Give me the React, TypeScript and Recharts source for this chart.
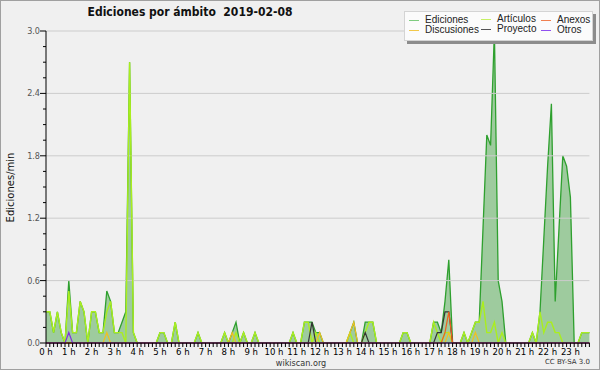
import { ComposedChart, Area, Line, XAxis, YAxis, ReferenceLine } from "recharts";

// 10-minute slots over the day (0 = 00:00, 143 = 23:50)
const slots = Array.from({ length: 144 }, (_, k) => k);

const ediciones = [
  0.3, 0.3, 0.1, 0.3, 0.1, 0, 0.6, 0.1, 0.1, 0.4, 0.3, 0, 0.3, 0.3, 0.1, 0.1, 0.5, 0.4, 0.1, 0.1, 0.2, 0.3, 2.7, 0.1,
  0, 0, 0, 0, 0, 0, 0.1, 0.1, 0, 0, 0.2, 0, 0, 0, 0, 0, 0.1, 0, 0, 0, 0, 0, 0, 0.1,
  0, 0.1, 0.2, 0, 0.1, 0, 0, 0.1, 0, 0, 0, 0, 0, 0, 0, 0, 0, 0.1, 0, 0, 0.2, 0.2, 0.2, 0.1,
  0.1, 0, 0, 0, 0, 0, 0, 0, 0.1, 0.2, 0, 0, 0.2, 0.2, 0.2, 0, 0, 0, 0, 0, 0, 0, 0.1, 0.1,
  0, 0, 0, 0, 0, 0, 0.2, 0.2, 0.1, 0.4, 0.8, 0, 0, 0, 0.1, 0, 0.1, 0.2, 0.2, 1.1, 2.0, 1.9, 3.0, 0.6,
  0.4, 0, 0, 0, 0, 0, 0, 0, 0.1, 0, 0.3, 1.0, 1.7, 2.3, 0.4, 1.1, 1.8, 1.7, 1.4, 0, 0, 0.1, 0.1, 0.1,
];

const articulos = [
  0.3, 0.3, 0.1, 0.3, 0.1, 0, 0.5, 0.1, 0.1, 0.4, 0.3, 0, 0.3, 0.3, 0.1, 0.1, 0.3, 0.4, 0.1, 0.1, 0.1, 0, 2.7, 0.1,
  0, 0, 0, 0, 0, 0, 0.1, 0.1, 0, 0, 0.2, 0, 0, 0, 0, 0, 0.1, 0, 0, 0, 0, 0, 0, 0.1,
  0, 0, 0.1, 0, 0.1, 0, 0, 0.1, 0, 0, 0, 0, 0, 0, 0, 0, 0, 0.1, 0, 0, 0.2, 0.2, 0, 0.1,
  0, 0, 0, 0, 0, 0, 0, 0, 0.1, 0, 0, 0, 0.1, 0.2, 0.2, 0, 0, 0, 0, 0, 0, 0, 0.1, 0.1,
  0, 0, 0, 0, 0, 0, 0.2, 0.1, 0, 0.1, 0.1, 0, 0, 0, 0.1, 0, 0.1, 0.2, 0.2, 0.4, 0.1, 0.1, 0.2, 0,
  0.1, 0, 0, 0, 0, 0, 0, 0, 0.1, 0, 0.3, 0.1, 0.2, 0.2, 0.1, 0.1, 0, 0, 0, 0, 0, 0.1, 0.1, 0.1,
];

const discusiones = [
  0, 0, 0, 0, 0, 0, 0, 0, 0, 0, 0, 0, 0, 0, 0, 0, 0.1, 0, 0, 0, 0, 0, 0, 0,
  0, 0, 0, 0, 0, 0, 0, 0, 0, 0, 0, 0, 0, 0, 0, 0, 0, 0, 0, 0, 0, 0, 0, 0,
  0, 0.1, 0, 0, 0, 0, 0, 0, 0, 0, 0, 0, 0, 0, 0, 0, 0, 0, 0, 0, 0, 0, 0, 0,
  0.1, 0, 0, 0, 0, 0, 0, 0, 0.1, 0.2, 0, 0, 0, 0, 0, 0, 0, 0, 0, 0, 0, 0, 0, 0,
  0, 0, 0, 0, 0, 0, 0, 0, 0, 0, 0.1, 0, 0, 0, 0, 0, 0, 0.1, 0, 0, 0, 0, 0, 0,
  0, 0, 0, 0, 0, 0, 0, 0, 0, 0, 0, 0, 0, 0, 0, 0, 0, 0, 0, 0, 0, 0, 0, 0,
];

const proyecto = [
  0, 0, 0, 0, 0, 0, 0, 0, 0, 0, 0, 0, 0, 0, 0, 0, 0, 0, 0, 0, 0, 0, 0, 0,
  0, 0, 0, 0, 0, 0, 0, 0, 0, 0, 0, 0, 0, 0, 0, 0, 0, 0, 0, 0, 0, 0, 0, 0,
  0, 0, 0, 0, 0, 0, 0, 0, 0, 0, 0, 0, 0, 0, 0, 0, 0, 0, 0, 0, 0, 0, 0.2, 0,
  0, 0, 0, 0, 0, 0, 0, 0, 0, 0, 0, 0, 0.1, 0, 0, 0, 0, 0, 0, 0, 0, 0, 0, 0,
  0, 0, 0, 0, 0, 0, 0, 0.1, 0.1, 0.3, 0.3, 0, 0, 0, 0, 0, 0, 0, 0, 0, 0, 0, 0, 0,
  0, 0, 0, 0, 0, 0, 0, 0, 0, 0, 0, 0, 0, 0, 0, 0, 0, 0, 0, 0, 0, 0, 0, 0,
];

const anexos = [
  0, 0, 0, 0, 0, 0, 0, 0, 0, 0, 0, 0, 0, 0, 0, 0, 0, 0, 0, 0, 0, 0, 0, 0,
  0, 0, 0, 0, 0, 0, 0, 0, 0, 0, 0, 0, 0, 0, 0, 0, 0, 0, 0, 0, 0, 0, 0, 0,
  0, 0, 0, 0, 0, 0, 0, 0, 0, 0, 0, 0, 0, 0, 0, 0, 0, 0, 0, 0, 0, 0, 0, 0,
  0, 0, 0, 0, 0, 0, 0, 0, 0, 0, 0, 0, 0, 0, 0, 0, 0, 0, 0, 0, 0, 0, 0, 0,
  0, 0, 0, 0, 0, 0, 0, 0, 0, 0.1, 0.3, 0, 0, 0, 0, 0, 0, 0, 0, 0, 0, 0, 0, 0,
  0, 0, 0, 0, 0, 0, 0, 0, 0, 0, 0, 0, 0, 0, 0, 0, 0, 0, 0, 0, 0, 0, 0, 0,
];

const otros = [
  0, 0, 0, 0, 0, 0, 0.1, 0, 0, 0, 0, 0, 0, 0, 0, 0, 0, 0, 0, 0, 0, 0, 0, 0,
  0, 0, 0, 0, 0, 0, 0, 0, 0, 0, 0, 0, 0, 0, 0, 0, 0, 0, 0, 0, 0, 0, 0, 0,
  0, 0, 0, 0, 0, 0, 0, 0, 0, 0, 0, 0, 0, 0, 0, 0, 0, 0, 0, 0, 0, 0, 0, 0,
  0, 0, 0, 0, 0, 0, 0, 0, 0, 0, 0, 0, 0, 0, 0, 0, 0, 0, 0, 0, 0, 0, 0, 0,
  0, 0, 0, 0, 0, 0, 0, 0, 0, 0, 0, 0, 0, 0, 0, 0, 0, 0, 0, 0, 0, 0, 0, 0,
  0, 0, 0, 0, 0, 0, 0, 0, 0, 0, 0, 0, 0, 0, 0, 0, 0, 0, 0, 0, 0, 0, 0, 0,
];

const yTicks = [0, 0.15, 0.3, 0.45, 0.6, 0.75, 0.9, 1.05, 1.2, 1.35, 1.5, 1.65, 1.8, 1.95, 2.1, 2.25, 2.4, 2.55, 2.7, 2.85, 3.0];
const gridLines = [0.6, 1.2, 1.8, 2.4, 3.0];

const data = slots.map((s, k) => ({
  i: s,
  ed: ediciones[k],
  art: articulos[k],
  disc: discusiones[k],
  proy: proyecto[k],
  anex: anexos[k],
  otros: otros[k],
}));

const legendItems = [
  { name: "Ediciones", color: "#7fcc7f", left: 4, top: 8 },
  { name: "Discusiones", color: "#f2c84a", left: 4, top: 18 },
  { name: "Artículos", color: "#c6f064", left: 76, top: 7 },
  { name: "Proyecto", color: "#555", left: 76, top: 17 },
  { name: "Anexos", color: "#f08050", left: 136, top: 8 },
  { name: "Otros", color: "#9050f0", left: 136, top: 18 },
];

const font = "'DejaVu Sans', sans-serif";
const narrow = "'DejaVu Sans Condensed', 'DejaVu Sans', sans-serif";

function SlotTick(props: any) {
  const { x, y, payload } = props;
  const v = payload.value;
  return (
    <g>
      <line x1={x} x2={x} y1={y} y2={y + 4} stroke="#000" />
      {v % 6 === 0 && (
        <text x={x} y={y + 12} textAnchor="middle" fontSize={9.5} fontFamily={narrow} fill="#000">
          {v / 6} h
        </text>
      )}
    </g>
  );
}

function ValueTick(props: any) {
  const { x, y, payload } = props;
  const major = Math.round(payload.value * 100) % 60 === 0;
  return (
    <g>
      <line x1={x - (major ? 6 : 3)} x2={x} y1={y} y2={y} stroke="#000" />
      {major && (
        <text x={x - 6} y={y + 3} textAnchor="end" fontSize={9} fontFamily={narrow} fill="#555">
          {payload.value.toFixed(1)}
        </text>
      )}
    </g>
  );
}

export default function App() {
  return (
    <div
      style={{
        position: "relative",
        width: 600,
        height: 370,
        boxSizing: "border-box",
        border: "1px solid #a0a0a0",
        background: "#f0f0f0",
        fontFamily: font,
        overflow: "hidden",
      }}
    >
      <style>{`body{margin:0}`}</style>
      <div style={{ position: "absolute", left: -1, top: -1 }}>
        <ComposedChart width={600} height={370} data={data} margin={{ top: 31, right: 10.6, bottom: 7, left: 0 }}>
          {gridLines.map((g) => (
            <ReferenceLine key={g} y={g} stroke="#cccccc" strokeWidth={1} />
          ))}
          <Area
            dataKey="ed"
            type="linear"
            stroke="#2ea02e"
            strokeWidth={1.3}
            fill="#3a9e3a"
            fillOpacity={0.45}
            dot={false}
            activeDot={false}
            isAnimationActive={false}
          />
          <Line dataKey="art" type="linear" stroke="#aaee1e" strokeWidth={1.4} dot={false} activeDot={false} isAnimationActive={false} />
          <Line dataKey="disc" type="linear" stroke="#f0c020" strokeWidth={1.2} dot={false} activeDot={false} isAnimationActive={false} />
          <Line dataKey="proy" type="linear" stroke="#333333" strokeWidth={1.2} dot={false} activeDot={false} isAnimationActive={false} />
          <Line dataKey="anex" type="linear" stroke="#f06020" strokeWidth={1.2} dot={false} activeDot={false} isAnimationActive={false} />
          <Line dataKey="otros" type="linear" stroke="#8030e0" strokeWidth={1.2} dot={false} activeDot={false} isAnimationActive={false} />
          <XAxis
            dataKey="i"
            type="number"
            domain={[0, 143]}
            ticks={slots}
            interval={0}
            height={20}
            tickSize={0}
            tickMargin={0}
            tickLine={false}
            axisLine={{ stroke: "#000" }}
            tick={<SlotTick />}
          />
          <YAxis
            type="number"
            domain={[0, 3]}
            ticks={yTicks}
            interval={0}
            width={46}
            tickSize={0}
            tickMargin={0}
            tickLine={false}
            axisLine={{ stroke: "#000" }}
            tick={<ValueTick />}
          />
        </ComposedChart>
      </div>

      <div
        style={{
          position: "absolute",
          left: 0,
          width: 378,
          top: 4,
          textAlign: "center",
          fontSize: 12,
          fontWeight: "bold",
          fontFamily: narrow,
          color: "#111",
          whiteSpace: "pre",
        }}
      >
        {"Ediciones por ámbito  2019-02-08"}
      </div>

      <div
        style={{
          position: "absolute",
          left: 9 - 50,
          top: 188 - 7,
          width: 100,
          textAlign: "center",
          fontSize: 10,
          color: "#111",
          transform: "rotate(-90deg)",
        }}
      >
        Ediciones/min
      </div>

      <div
        style={{
          position: "absolute",
          left: 250,
          width: 100,
          top: 357,
          textAlign: "center",
          fontSize: 9,
          lineHeight: "10px",
          fontFamily: narrow,
          color: "#333",
        }}
      >
        wikiscan.org
      </div>
      <div style={{ position: "absolute", right: 9, top: 357, fontSize: 7, lineHeight: "9px", color: "#333" }}>CC BY-SA 3.0</div>

      <div
        style={{
          position: "absolute",
          left: 403,
          top: 10,
          width: 187,
          height: 28,
          background: "#fbfbfb",
          border: "1px solid #d4d4d4",
          boxShadow: "3px 3px 0 #8c8c8c",
        }}
      >
        {legendItems.map((it) => (
          <div key={it.name}>
            <div
              style={{
                position: "absolute",
                left: it.left,
                top: it.top,
                width: 10,
                height: 1,
                background: it.color,
              }}
            />
            <div
              style={{
                position: "absolute",
                left: it.left + 16,
                top: it.top - 5,
                fontSize: 10,
                lineHeight: "10px",
                fontFamily: "'Liberation Sans', Arial, sans-serif",
                color: "#222",
                whiteSpace: "nowrap",
              }}
            >
              {it.name}
            </div>
          </div>
        ))}
      </div>
    </div>
  );
}
